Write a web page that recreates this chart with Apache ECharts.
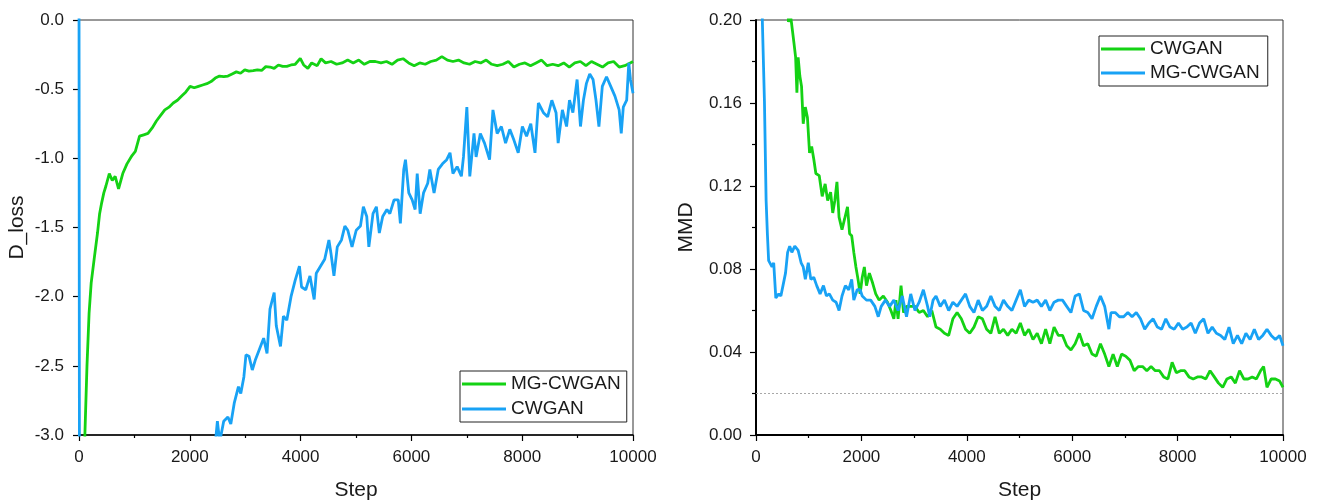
<!DOCTYPE html>
<html>
<head>
<meta charset="utf-8">
<script src="https://cdn.jsdelivr.net/npm/echarts@6/dist/echarts.min.js"></script>
<style>
html,body{margin:0;padding:0;background:#fff;}
#chart{width:1320px;height:503px;}
</style>
</head>
<body>
<div id="chart"></div>
<script>
// ---------- Data (step, value) ----------
const xTicks = [0, 2000, 4000, 6000, 8000, 10000];
const lossYTicks = [0.0, -0.5, -1.0, -1.5, -2.0, -2.5, -3.0];
const mmdYTicks = [0.00, 0.04, 0.08, 0.12, 0.16, 0.20];

// Left panel: D_loss
const lossMgCwgan = [
 [80,-4.5],[106,-3.0],[144,-2.5],[182,-2.12],[220,-1.9],[273,-1.73],[334,-1.54],[372,-1.4],[410,-1.32],[448,-1.25],
 [486,-1.2],[547,-1.11],[600,-1.16],[653,-1.13],[714,-1.22],[790,-1.11],[866,-1.04],[957,-0.98],[1017,-0.95],[1093,-0.84],
 [1169,-0.83],[1245,-0.82],[1321,-0.78],[1397,-0.73],[1473,-0.69],[1549,-0.65],[1625,-0.63],[1701,-0.6],[1777,-0.58],[1853,-0.55],
 [1929,-0.52],[2005,-0.48],[2080,-0.49],[2156,-0.48],[2232,-0.47],[2308,-0.46],[2384,-0.445],[2460,-0.42],[2536,-0.405],[2612,-0.41],
 [2688,-0.405],[2764,-0.39],[2840,-0.375],[2916,-0.385],[2992,-0.36],[3068,-0.37],[3144,-0.366],[3220,-0.36],[3296,-0.365],[3371,-0.337],
 [3447,-0.34],[3523,-0.35],[3599,-0.325],[3675,-0.335],[3751,-0.335],[3827,-0.325],[3903,-0.32],[3994,-0.277],[4055,-0.325],[4131,-0.35],
 [4200,-0.31],[4300,-0.33],[4370,-0.28],[4450,-0.31],[4550,-0.3],[4650,-0.32],[4750,-0.31],[4850,-0.29],[4950,-0.31],[5050,-0.29],
 [5150,-0.32],[5250,-0.3],[5350,-0.3],[5450,-0.31],[5550,-0.3],[5650,-0.32],[5750,-0.29],[5850,-0.28],[5950,-0.31],[6050,-0.33],
 [6150,-0.31],[6250,-0.32],[6350,-0.3],[6450,-0.29],[6550,-0.265],[6650,-0.29],[6750,-0.3],[6850,-0.29],[6950,-0.31],[7050,-0.32],
 [7150,-0.3],[7250,-0.31],[7350,-0.29],[7450,-0.32],[7550,-0.33],[7650,-0.32],[7750,-0.3],[7850,-0.34],[7950,-0.32],[8050,-0.31],
 [8150,-0.33],[8250,-0.31],[8350,-0.29],[8450,-0.33],[8550,-0.32],[8650,-0.33],[8750,-0.31],[8850,-0.34],[8950,-0.31],[9050,-0.3],
 [9150,-0.33],[9250,-0.3],[9350,-0.32],[9450,-0.34],[9550,-0.31],[9650,-0.3],[9750,-0.34],[9850,-0.33],[9950,-0.31],[10000,-0.3]
];
const lossCwgan = [
 [0,0.3],[12,-5.0],[1200,-4.2],[2400,-3.3],[2475,-3.0],[2498,-2.9],[2540,-3.05],[2612,-2.9],[2688,-2.87],[2740,-2.92],
 [2802,-2.77],[2878,-2.65],[2920,-2.7],[2976,-2.58],[3014,-2.42],[3068,-2.43],[3128,-2.53],[3181,-2.46],[3257,-2.38],[3333,-2.3],
 [3394,-2.41],[3447,-2.09],[3523,-1.97],[3561,-2.21],[3637,-2.36],[3690,-2.14],[3751,-2.17],[3827,-2.0],[3903,-1.88],[3979,-1.78],
 [4017,-1.93],[4093,-1.95],[4169,-1.85],[4245,-2.02],[4283,-1.83],[4359,-1.78],[4435,-1.73],[4511,-1.59],[4549,-1.69],[4602,-1.85],
 [4662,-1.64],[4738,-1.59],[4799,-1.49],[4852,-1.52],[4928,-1.64],[5004,-1.52],[5080,-1.49],[5133,-1.35],[5194,-1.42],[5232,-1.64],
 [5307,-1.4],[5368,-1.35],[5421,-1.54],[5482,-1.42],[5558,-1.37],[5611,-1.4],[5687,-1.3],[5763,-1.3],[5801,-1.47],[5862,-1.08],
 [5893,-1.01],[5953,-1.25],[6014,-1.3],[6067,-1.37],[6105,-1.11],[6158,-1.4],[6219,-1.25],[6295,-1.18],[6333,-1.08],[6409,-1.25],
 [6485,-1.08],[6561,-1.04],[6637,-1.01],[6697,-0.96],[6750,-1.11],[6826,-1.06],[6902,-1.13],[6940,-0.99],[7001,-0.63],[7054,-1.13],
 [7130,-0.82],[7168,-0.99],[7244,-0.82],[7320,-0.89],[7411,-1.01],[7472,-0.65],[7548,-0.82],[7624,-0.77],[7700,-0.89],[7776,-0.79],
 [7852,-0.87],[7928,-0.96],[8003,-0.77],[8079,-0.84],[8155,-0.75],[8231,-0.96],[8292,-0.6],[8383,-0.67],[8459,-0.7],[8535,-0.58],
 [8611,-0.67],[8649,-0.89],[8725,-0.65],[8801,-0.77],[8854,-0.58],[8915,-0.67],[8991,-0.43],[9052,-0.77],[9105,-0.58],[9158,-0.46],
 [9219,-0.39],[9279,-0.43],[9332,-0.58],[9385,-0.77],[9446,-0.48],[9522,-0.41],[9598,-0.48],[9674,-0.55],[9750,-0.65],[9788,-0.82],
 [9825,-0.63],[9886,-0.58],[9924,-0.31],[9954,-0.43],[10000,-0.53]
];

// Right panel: MMD
const mmdCwgan = [
 [560,0.25],[616,0.199],[650,0.203],[672,0.199],[720,0.189],[752,0.182],[776,0.165],[800,0.182],[832,0.173],[864,0.168],
 [896,0.15],[936,0.158],[976,0.153],[1016,0.136],[1056,0.139],[1096,0.133],[1136,0.126],[1200,0.125],[1256,0.115],[1312,0.121],
 [1360,0.113],[1416,0.117],[1456,0.107],[1496,0.113],[1536,0.122],[1576,0.105],[1632,0.099],[1680,0.104],[1736,0.11],[1776,0.097],
 [1816,0.096],[1856,0.088],[1896,0.081],[1936,0.075],[1976,0.068],[2016,0.076],[2056,0.081],[2096,0.072],[2152,0.078],[2216,0.073],
 [2272,0.068],[2336,0.065],[2416,0.067],[2496,0.064],[2560,0.06],[2616,0.056],[2656,0.065],[2696,0.056],[2752,0.072],[2800,0.059],
 [2856,0.062],[2936,0.062],[3016,0.062],[3096,0.059],[3176,0.06],[3256,0.057],[3336,0.06],[3416,0.052],[3496,0.051],[3576,0.049],
 [3656,0.048],[3736,0.056],[3816,0.059],[3896,0.056],[3976,0.051],[4056,0.049],[4136,0.052],[4216,0.057],[4296,0.056],[4376,0.051],
 [4456,0.049],[4536,0.057],[4616,0.049],[4696,0.051],[4776,0.048],[4856,0.051],[4936,0.049],[5016,0.054],[5096,0.048],[5176,0.051],
 [5256,0.046],[5336,0.049],[5416,0.044],[5496,0.051],[5576,0.044],[5656,0.052],[5736,0.048],[5816,0.048],[5896,0.043],[5976,0.041],
 [6056,0.044],[6136,0.049],[6216,0.043],[6296,0.044],[6376,0.039],[6456,0.038],[6536,0.044],[6616,0.039],[6696,0.033],[6776,0.039],
 [6856,0.033],[6936,0.039],[7016,0.038],[7096,0.036],[7176,0.031],[7256,0.033],[7336,0.033],[7416,0.031],[7496,0.033],[7576,0.031],
 [7656,0.031],[7736,0.028],[7816,0.027],[7896,0.035],[7976,0.03],[8056,0.031],[8136,0.031],[8216,0.028],[8296,0.027],[8376,0.028],
 [8456,0.028],[8536,0.027],[8616,0.031],[8696,0.028],[8776,0.025],[8856,0.023],[8936,0.027],[9016,0.028],[9096,0.025],[9176,0.031],
 [9256,0.027],[9336,0.027],[9416,0.028],[9496,0.027],[9576,0.031],[9632,0.033],[9696,0.023],[9776,0.027],[9856,0.027],[9936,0.026],
 [10000,0.023]
];
const mmdMgCwgan = [
 [100,0.26],[120,0.2],[160,0.161],[192,0.113],[216,0.097],[240,0.084],[272,0.084],[304,0.081],[336,0.083],[376,0.066],
 [432,0.068],[472,0.067],[512,0.072],[560,0.078],[600,0.088],[640,0.091],[680,0.088],[736,0.091],[800,0.089],[856,0.083],
 [896,0.081],[936,0.075],[992,0.083],[1040,0.075],[1096,0.076],[1152,0.072],[1216,0.068],[1280,0.072],[1336,0.067],[1392,0.068],
 [1456,0.065],[1520,0.064],[1576,0.06],[1632,0.067],[1696,0.072],[1760,0.07],[1816,0.075],[1856,0.065],[1920,0.07],[1976,0.07],
 [2016,0.067],[2096,0.065],[2176,0.065],[2256,0.062],[2320,0.057],[2376,0.062],[2456,0.065],[2536,0.062],[2616,0.065],[2696,0.06],
 [2776,0.067],[2856,0.057],[2936,0.068],[3016,0.06],[3096,0.064],[3176,0.07],[3256,0.062],[3296,0.057],[3360,0.065],[3416,0.067],
 [3496,0.062],[3576,0.065],[3656,0.06],[3736,0.064],[3816,0.062],[3896,0.065],[3976,0.068],[4056,0.062],[4136,0.059],[4216,0.065],
 [4296,0.06],[4376,0.062],[4456,0.067],[4536,0.062],[4616,0.06],[4696,0.065],[4776,0.062],[4856,0.06],[4936,0.065],[5016,0.07],
 [5096,0.062],[5176,0.065],[5256,0.064],[5336,0.065],[5416,0.062],[5496,0.065],[5576,0.06],[5656,0.064],[5736,0.065],[5816,0.065],
 [5896,0.062],[5976,0.059],[6056,0.067],[6136,0.068],[6216,0.06],[6296,0.059],[6376,0.056],[6456,0.062],[6536,0.067],[6616,0.062],
 [6696,0.051],[6736,0.059],[6816,0.059],[6896,0.057],[6976,0.057],[7056,0.059],[7136,0.057],[7216,0.059],[7296,0.056],[7376,0.051],
 [7456,0.054],[7536,0.056],[7616,0.052],[7696,0.051],[7776,0.056],[7856,0.052],[7936,0.051],[8016,0.054],[8096,0.051],[8176,0.052],
 [8256,0.054],[8336,0.049],[8416,0.054],[8496,0.056],[8576,0.049],[8656,0.052],[8736,0.049],[8816,0.048],[8896,0.046],[8976,0.052],
 [9056,0.044],[9136,0.048],[9216,0.044],[9296,0.049],[9376,0.046],[9456,0.051],[9536,0.046],[9616,0.048],[9696,0.051],[9776,0.048],
 [9856,0.046],[9936,0.048],[10000,0.043]
];
const mmdReference = 0.02;

// ---------- Chart ----------
const GREEN = '#14d214';
const BLUE = '#18a2f5';
const FONT = "'Liberation Sans', Arial, sans-serif";
const TXT = '#1a1a1a';

function xAxisCfg(gridIndex) {
  return {
    type: 'value', gridIndex,
    min: xTicks[0], max: xTicks[xTicks.length - 1], interval: xTicks[1] - xTicks[0],
    name: 'Step', nameLocation: 'middle', nameGap: 45,
    nameTextStyle: { fontFamily: FONT, fontSize: 21, color: TXT },
    axisLine: { show: true, onZero: false, lineStyle: { color: '#000', width: gridIndex === 1 ? 2 : 1.5 } },
    axisTick: { show: true, inside: false, length: 6, lineStyle: { color: '#000', width: 1.2 } },
    minorTick: { show: true, splitNumber: 2, length: 3, lineStyle: { color: '#000', width: 1.2 } },
    splitLine: { show: false },
    axisLabel: { fontFamily: FONT, fontSize: 17, color: TXT, margin: 14, showMaxLabel: true, showMinLabel: true,
                 formatter: v => String(Math.round(v)) }
  };
}

const option = {
  animation: false,
  backgroundColor: '#fff',
  grid: [
    { left: 79, top: 20, width: 554, height: 415, show: true, borderColor: '#333', borderWidth: 1,
      backgroundColor: 'transparent', outerBoundsMode: 'none', containLabel: false },
    { left: 756, top: 20, width: 527, height: 415, show: true, borderColor: '#333', borderWidth: 1,
      backgroundColor: 'transparent', outerBoundsMode: 'none', containLabel: false }
  ],
  xAxis: [xAxisCfg(0), xAxisCfg(1)],
  yAxis: [
    {
      type: 'value', gridIndex: 0,
      min: lossYTicks[lossYTicks.length - 1], max: lossYTicks[0], interval: 0.5,
      name: 'D_loss', nameLocation: 'middle', nameGap: 51, nameRotate: 90,
      nameTextStyle: { fontFamily: FONT, fontSize: 21, color: TXT },
      axisLine: { show: true, onZero: false, lineStyle: { color: '#000', width: 1.5 } },
      axisTick: { show: true, inside: false, length: 6, lineStyle: { color: '#000', width: 1.2 } },
      splitLine: { show: false },
      axisLabel: { fontFamily: FONT, fontSize: 17, color: TXT, margin: 15, formatter: v => v.toFixed(1) }
    },
    {
      type: 'value', gridIndex: 1,
      min: mmdYTicks[0], max: mmdYTicks[mmdYTicks.length - 1], interval: 0.04,
      name: 'MMD', nameLocation: 'middle', nameGap: 59, nameRotate: 90,
      nameTextStyle: { fontFamily: FONT, fontSize: 21, color: TXT },
      axisLine: { show: true, onZero: false, lineStyle: { color: '#000', width: 2 } },
      axisTick: { show: true, inside: false, length: 6, lineStyle: { color: '#000', width: 1.2 } },
      minorTick: { show: true, splitNumber: 2, length: 4, lineStyle: { color: '#000', width: 1.2 } },
      splitLine: { show: false },
      axisLabel: { fontFamily: FONT, fontSize: 17, color: TXT, margin: 14, formatter: v => v.toFixed(2) }
    }
  ],
  legend: [
    {
      data: ['L|MG-CWGAN', 'L|CWGAN'],
      orient: 'vertical', left: 460, top: 371,
      padding: [3, 6, 3, 2], itemGap: 5, itemWidth: 44, itemHeight: 3,
      icon: 'path://M0 0H44V3H0Z',
      borderColor: '#222', borderWidth: 1, backgroundColor: '#fff',
      formatter: n => n.split('|')[1],
      textStyle: { fontFamily: FONT, fontSize: 19, color: TXT, lineHeight: 20 }
    },
    {
      data: ['R|CWGAN', 'R|MG-CWGAN'],
      orient: 'vertical', left: 1099, top: 36,
      padding: [3, 8, 3, 2], itemGap: 4, itemWidth: 44, itemHeight: 3,
      icon: 'path://M0 0H44V3H0Z',
      borderColor: '#222', borderWidth: 1, backgroundColor: '#fff',
      formatter: n => n.split('|')[1],
      textStyle: { fontFamily: FONT, fontSize: 19, color: TXT, lineHeight: 20 }
    }
  ],
  series: [
    {
      name: 'L|MG-CWGAN', type: 'line', xAxisIndex: 0, yAxisIndex: 0,
      data: lossMgCwgan, showSymbol: false, clip: true,
      itemStyle: { color: GREEN }, lineStyle: { color: GREEN, width: 2.8 }
    },
    {
      name: 'L|CWGAN', type: 'line', xAxisIndex: 0, yAxisIndex: 0,
      data: lossCwgan, showSymbol: false, clip: true,
      itemStyle: { color: BLUE }, lineStyle: { color: BLUE, width: 2.8 }
    },
    {
      name: 'R|CWGAN', type: 'line', xAxisIndex: 1, yAxisIndex: 1,
      data: mmdCwgan, showSymbol: false, clip: true,
      itemStyle: { color: GREEN }, lineStyle: { color: GREEN, width: 2.8 },
      markLine: {
        silent: true, symbol: 'none', label: { show: false },
        lineStyle: { color: '#a8a8a8', type: [2, 2], width: 1.2 },
        data: [{ yAxis: mmdReference }]
      }
    },
    {
      name: 'R|MG-CWGAN', type: 'line', xAxisIndex: 1, yAxisIndex: 1,
      data: mmdMgCwgan, showSymbol: false, clip: true,
      itemStyle: { color: BLUE }, lineStyle: { color: BLUE, width: 2.8 }
    }
  ]
};

const chart = echarts.init(document.getElementById('chart'), null, { renderer: 'canvas' });
chart.setOption(option);
</script>
</body>
</html>
